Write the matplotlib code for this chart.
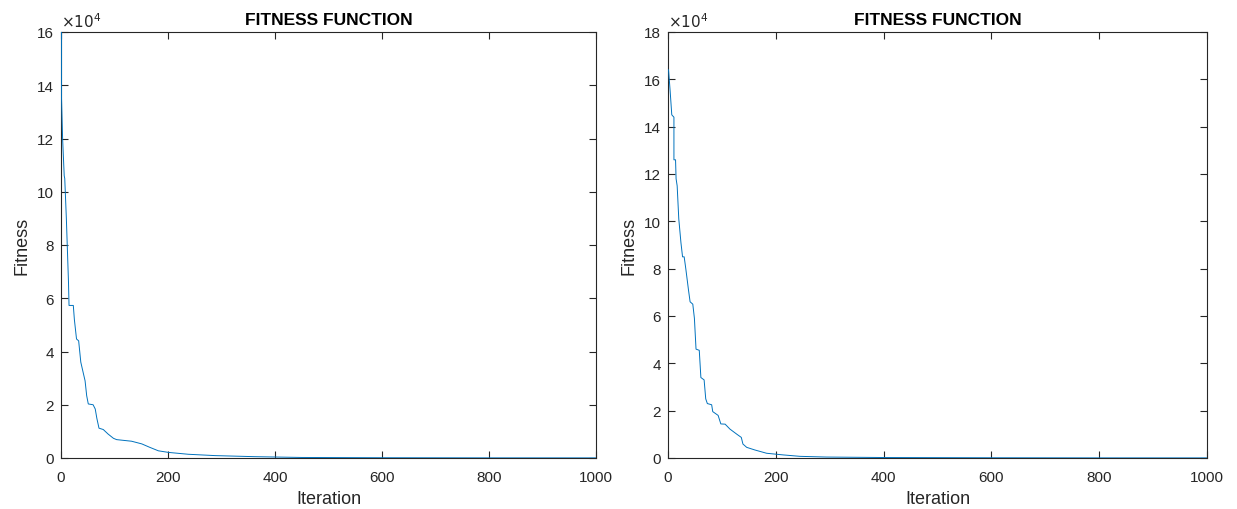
import numpy as np
import matplotlib
matplotlib.use("Agg")
import matplotlib.pyplot as plt

plt.rcParams['font.family'] = ['Liberation Sans', 'DejaVu Sans']

# Best fitness per iteration (run 1)
iter_a = [0, 1, 1, 3, 6, 7, 10, 14, 15, 23, 25, 29, 33, 37, 42, 45, 48, 51, 60,
          64, 67, 71, 79, 88, 98, 104, 132, 151, 166, 182, 201, 238, 288, 362,
          450, 600, 800, 1000]
fit_a = [16.0e4, 16.0e4, 13.5e4, 12.0e4, 10.6e4, 10.5e4, 9.0e4, 6.6e4, 5.73e4,
         5.73e4, 5.2e4, 4.47e4, 4.4e4, 3.6e4, 3.16e4, 2.9e4, 2.34e4, 2.03e4,
         2.0e4, 1.84e4, 1.49e4, 1.12e4, 1.07e4, 0.9e4, 0.74e4, 0.69e4, 0.63e4,
         0.53e4, 0.4e4, 0.27e4, 0.21e4, 0.14e4, 0.09e4, 0.05e4, 0.02e4, 0.01e4,
         0.005e4, 0.004e4]

# Best fitness per iteration (run 2)
iter_b = [1, 4, 7, 11, 11, 14, 15, 17, 20, 24, 27, 30, 33, 38, 41, 46, 49, 52,
          58, 61, 67, 70, 73, 81, 83, 93, 98, 106, 115, 128, 136, 139, 146,
          161, 183, 214, 245, 294, 400, 600, 800, 1000]
fit_b = [16.4e4, 15.5e4, 14.5e4, 14.4e4, 12.6e4, 12.6e4, 11.8e4, 11.5e4,
         10.1e4, 9.1e4, 8.5e4, 8.5e4, 8.0e4, 7.1e4, 6.6e4, 6.5e4, 5.9e4, 4.6e4,
         4.55e4, 3.4e4, 3.3e4, 2.5e4, 2.3e4, 2.25e4, 1.96e4, 1.8e4, 1.44e4,
         1.43e4, 1.22e4, 1.0e4, 0.87e4, 0.59e4, 0.45e4, 0.34e4, 0.2e4, 0.13e4,
         0.07e4, 0.04e4, 0.02e4, 0.01e4, 0.005e4, 0.004e4]

x_ticks = [0, 200, 400, 600, 800, 1000]
y_ticks_a = [0, 2e4, 4e4, 6e4, 8e4, 10e4, 12e4, 14e4, 16e4]
y_ticks_b = [0, 2e4, 4e4, 6e4, 8e4, 10e4, 12e4, 14e4, 16e4, 18e4]

W, H = 1237, 510
fig = plt.figure(figsize=(W / 100, H / 100), dpi=100)
ax_a = fig.add_axes([61 / W, 51 / H, 535 / W, 426 / H])
ax_b = fig.add_axes([668 / W, 51 / H, 539 / W, 426 / H])

line_color = '#0072BD'
axis_color = '#262626'

for ax, xs, ys, yt in [(ax_a, iter_a, fit_a, y_ticks_a),
                       (ax_b, iter_b, fit_b, y_ticks_b)]:
    ax.plot(xs, ys, color=line_color, lw=0.7, zorder=3)
    ax.set_xlim(0, 1000)
    ax.set_ylim(0, yt[-1])
    ax.set_xticks(x_ticks)
    ax.set_yticks(yt)
    ax.set_yticklabels([f"{v / 1e4:g}" for v in yt])
    ax.tick_params(direction='in', length=5, width=0.8, colors=axis_color,
                   labelsize=11, top=True, right=True)
    ax.tick_params(axis='x', pad=9)
    ax.tick_params(axis='y', pad=5)
    for s in ax.spines.values():
        s.set_color(axis_color)
        s.set_linewidth(0.8)
    ax.set_xlabel('Iteration', fontsize=13, color=axis_color, labelpad=4)
    ax.set_ylabel('Fitness', fontsize=13, color=axis_color, labelpad=5)
    ax.set_title('FITNESS FUNCTION', fontsize=12.5, fontweight='bold',
                 color='black', pad=6)
    ax.text(0.0, 1.005, r'$\times10^{4}$', transform=ax.transAxes,
            fontsize=11, color=axis_color, ha='left', va='bottom')

fig.savefig('out.png', dpi=100, facecolor='white')
